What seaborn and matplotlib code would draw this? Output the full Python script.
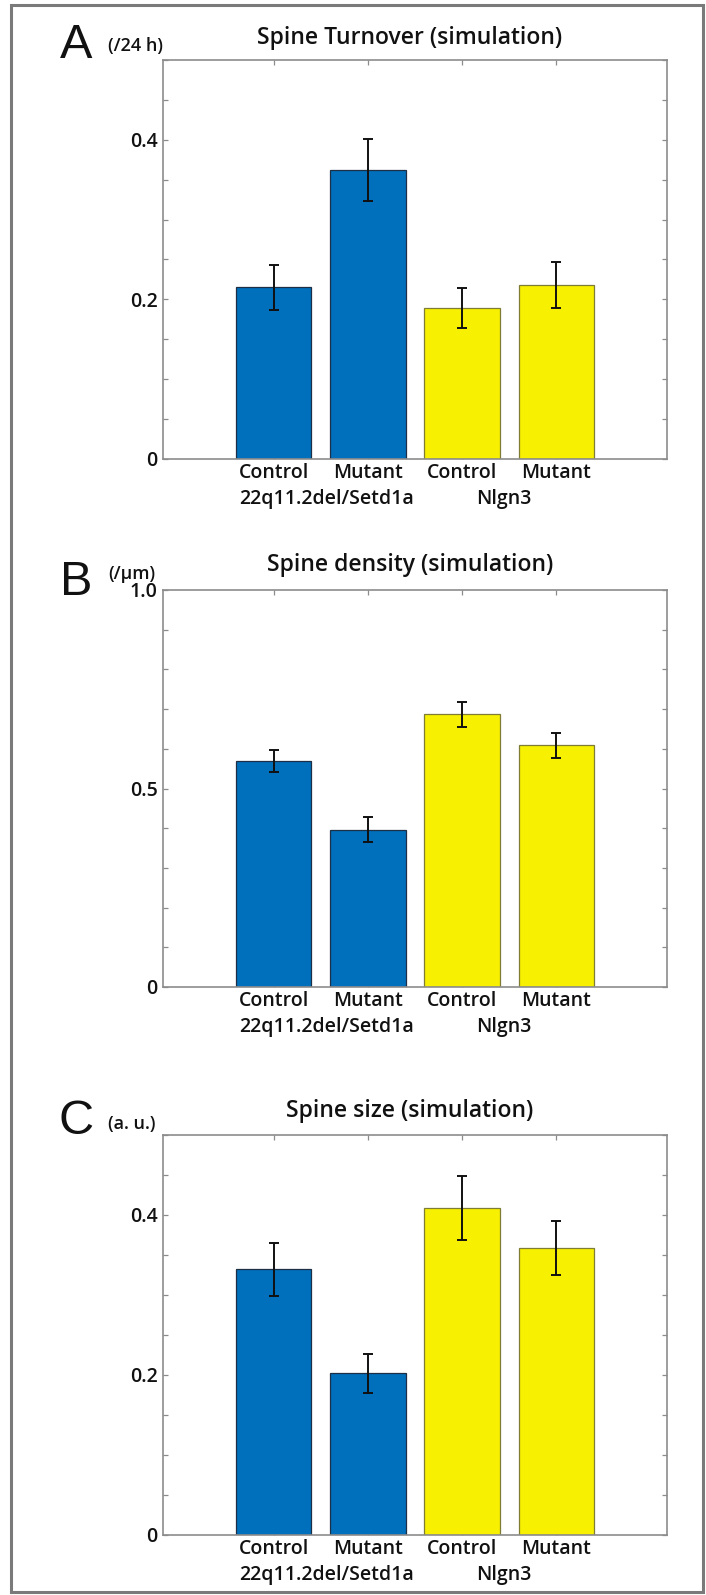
import numpy as np
import pandas as pd
import matplotlib
matplotlib.use("Agg")
import matplotlib.pyplot as plt
import seaborn as sns
from matplotlib.patches import Rectangle
from matplotlib.ticker import FixedLocator, MultipleLocator

sns.set_theme(style="white")
plt.rcParams["font.family"] = ["Open Sans", "DejaVu Sans"]
plt.rcParams["font.weight"] = "semibold"

# ---- data -------------------------------------------------------------
conditions = ["Control", "Mutant", "Control", "Mutant"]
bar_ids = ["22q-Control", "22q-Mutant", "Nlgn3-Control", "Nlgn3-Mutant"]
bar_group = ["22q11.2del/Setd1a", "22q11.2del/Setd1a", "Nlgn3", "Nlgn3"]
groups = ["22q11.2del/Setd1a", "Nlgn3"]

turnover_mean = [0.215, 0.362, 0.189, 0.218]
turnover_err = [0.028, 0.039, 0.025, 0.029]

density_mean = [0.569, 0.396, 0.687, 0.609]
density_err = [0.027, 0.032, 0.031, 0.032]

size_mean = [0.332, 0.202, 0.409, 0.359]
size_err = [0.033, 0.024, 0.040, 0.034]

turnover_ticks = [0, 0.2, 0.4]
turnover_ticklabels = ["0", "0.2", "0.4"]
density_ticks = [0, 0.5, 1.0]
density_ticklabels = ["0", "0.5", "1.0"]
size_ticks = [0, 0.2, 0.4]
size_ticklabels = ["0", "0.2", "0.4"]

group_colors = {"22q11.2del/Setd1a": "#0070BD", "Nlgn3": "#F7F000"}
group_edges = {"22q11.2del/Setd1a": "#1c2f45", "Nlgn3": "#7f7c36"}

# ---- figure geometry (pixels) -----------------------------------------
W, H = 706, 1595
fig = plt.figure(figsize=(W / 100, H / 100), dpi=100)
fig.patch.set_facecolor("white")


def fx(px):
    return px / W


def fy(py):
    return 1 - py / H


AX_LEFT, AX_RIGHT = 163, 667
SPINE_COLOR = "#8c8c8c"
TEXT_COLOR = "#111111"


def draw_panel(top, bottom, means, errs, ymax, step, ticks, ticklabels,
               title, title_y, letter, letter_y, unit, unit_y):
    ax = fig.add_axes([fx(AX_LEFT), fy(bottom), fx(AX_RIGHT) - fx(AX_LEFT),
                       (bottom - top) / H])
    df = pd.DataFrame({"bar": bar_ids, "value": means, "group": bar_group})
    sns.barplot(data=df, x="bar", y="value", hue="group", palette=group_colors,
                hue_order=groups, dodge=False, width=0.8, errorbar=None,
                saturation=1, legend=False, linewidth=0.9, ax=ax)
    # bars sorted by their x position so edges follow the group of each bar
    bars = sorted([p for p in ax.patches if p.get_height() > 0],
                  key=lambda p: p.get_x())
    for patch, g in zip(bars, bar_group):
        patch.set_edgecolor(group_edges[g])
    ax.errorbar(np.arange(len(means)), means, yerr=errs, fmt="none",
                ecolor=TEXT_COLOR, elinewidth=1.4, capsize=3.8, capthick=1.4,
                zorder=5)

    ax.set_xlim(-1.175, 4.175)
    ax.set_ylim(0, ymax)
    ax.set_xlabel("")
    ax.set_ylabel("")
    ax.set_xticks(np.arange(len(conditions)))
    ax.set_xticklabels(conditions)
    ax.yaxis.set_major_locator(FixedLocator(ticks))
    ax.set_yticklabels(ticklabels)
    ax.yaxis.set_minor_locator(MultipleLocator(step))
    ax.tick_params(which="both", direction="in", length=3.8, width=0.9,
                   color=SPINE_COLOR, top=True, right=True, left=True,
                   bottom=True)
    ax.tick_params(axis="both", which="major", labelsize=14,
                   labelcolor=TEXT_COLOR)
    ax.tick_params(axis="y", pad=4)
    ax.tick_params(axis="x", pad=3)
    for sp in ax.spines.values():
        sp.set_visible(True)
        sp.set_color(SPINE_COLOR)
        sp.set_linewidth(1.2)

    # group names under the condition labels
    for xg, name in zip([0.56, 2.44], groups):
        ax.annotate(name, xy=(xg, 0), xycoords=ax.get_xaxis_transform(),
                    xytext=(0, -29), textcoords="offset points",
                    ha="center", va="center", fontsize=14, color=TEXT_COLOR)

    fig.text(fx(410), fy(title_y), title, ha="center", va="center",
             fontsize=16.5, color=TEXT_COLOR)
    fig.text(fx(76), fy(letter_y), letter, ha="center", va="center",
             fontsize=35, family=["Liberation Sans", "DejaVu Sans"],
             weight="normal", color=TEXT_COLOR)
    fig.text(fx(108), fy(unit_y), unit, ha="left", va="center",
             fontsize=13, color=TEXT_COLOR)
    return ax


draw_panel(60, 459, turnover_mean, turnover_err, 0.5, 0.05,
           turnover_ticks, turnover_ticklabels,
           "Spine Turnover (simulation)", 38, "A", 45, "(/24 h)", 46)
draw_panel(590, 987, density_mean, density_err, 1.0, 0.1,
           density_ticks, density_ticklabels,
           "Spine density (simulation)", 565, "B", 582, "(/\u03bcm)", 574)
draw_panel(1135, 1535, size_mean, size_err, 0.5, 0.05,
           size_ticks, size_ticklabels,
           "Spine size (simulation)", 1111, "C", 1122, "(a. u.)", 1124)

# outer border
fig.add_artist(Rectangle((fx(11), fy(1592)), fx(703) - fx(11),
                         (1592 - 5) / H, transform=fig.transFigure,
                         fill=False, edgecolor="#7a7a7a", linewidth=2.2))

fig.savefig("out.png", dpi=100)
